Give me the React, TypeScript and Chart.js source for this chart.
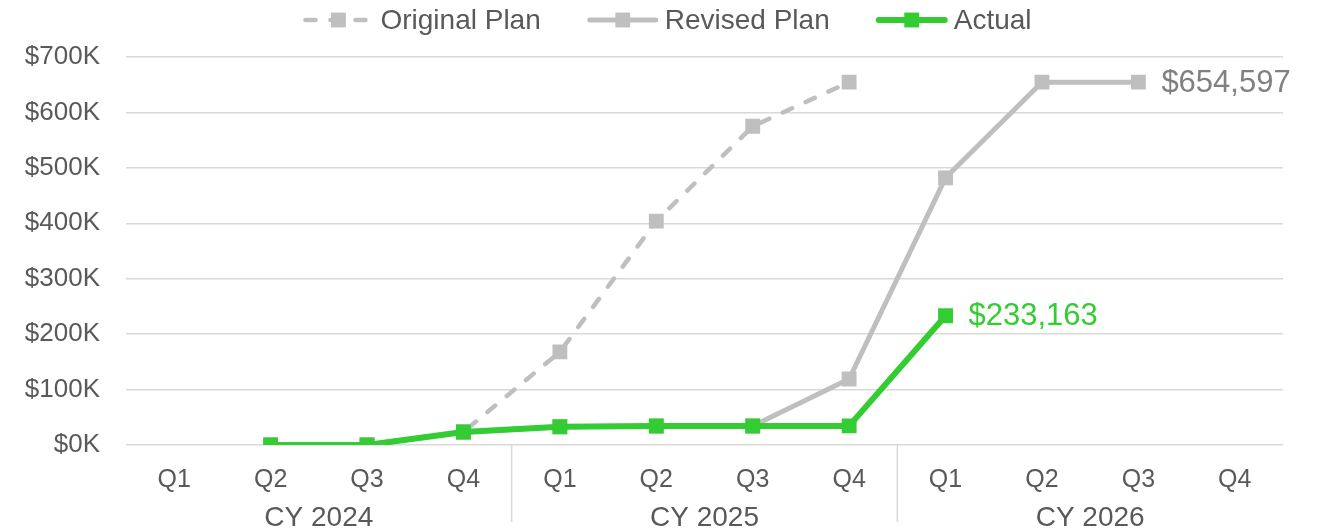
import React, { useEffect, useRef } from "react";
import { Chart, registerables } from "chart.js";

Chart.register(...registerables);

const QUARTERS = ["Q1", "Q2", "Q3", "Q4", "Q1", "Q2", "Q3", "Q4", "Q1", "Q2", "Q3", "Q4"];
const YEARS = ["CY 2024", "CY 2025", "CY 2026"];
const SERIES_NAMES = ["Original Plan", "Revised Plan", "Actual"];

const ORIGINAL_PLAN = [null, 0, 0, 23500, 168000, 404000, 575000, 654597, null, null, null, null];
const REVISED_PLAN = [null, 0, 0, 23500, 33000, 34300, 34300, 119000, 482000, 654597, 654597, null];
const ACTUAL = [null, 0, 0, 23500, 33000, 34300, 34300, 34500, 233163, null, null, null];

const Y_TICKS = [0, 100000, 200000, 300000, 400000, 500000, 600000, 700000];

const GRAY = "#bfbfbf";
const GREEN = "#33cc33";
const TEXT = "#595959";
const FONT = '"Liberation Sans", Arial, sans-serif';

const END_LABEL_INDEX = [null, 10, 8];
const END_LABEL_COLORS = [null, "#808080", GREEN];

const fmtMoney = (v: number) => "$" + v.toLocaleString("en-US");

const legendPlugin = {
  id: "customLegend",
  afterDraw(chart: any) {
    const ctx = chart.ctx;
    ctx.save();
    ctx.font = `28px ${FONT}`;
    const symW = 72;
    const gapText = 6;
    const gapItem = 46;
    const widths = SERIES_NAMES.map((n) => ctx.measureText(n).width);
    const total = widths.reduce((a, w) => a + symW + gapText + w, 0) + gapItem * (SERIES_NAMES.length - 1);
    let x = chart.width / 2 - total / 2 + 5;
    const y = 20;
    chart.data.datasets.forEach((ds: any, i: number) => {
      ctx.strokeStyle = ds.borderColor;
      ctx.lineWidth = ds.borderWidth;
      ctx.setLineDash(ds.borderDash || []);
      ctx.lineCap = "round";
      ctx.beginPath();
      ctx.moveTo(x + 3, y);
      ctx.lineTo(x + symW - 3, y);
      ctx.stroke();
      ctx.setLineDash([]);
      ctx.fillStyle = ds.pointBackgroundColor;
      const s = ds.pointRadius * Math.SQRT2;
      ctx.fillRect(x + symW / 2 - s / 2, y - s / 2, s, s);
      ctx.fillStyle = TEXT;
      ctx.textAlign = "left";
      ctx.textBaseline = "middle";
      ctx.fillText(SERIES_NAMES[i], x + symW + gapText, y + 1);
      x += symW + gapText + widths[i] + gapItem;
    });
    ctx.restore();
  },
};

const yearPlugin = {
  id: "yearAxis",
  afterDraw(chart: any) {
    const ctx = chart.ctx;
    const xs = chart.scales.x;
    const bottom = chart.chartArea.bottom;
    ctx.save();
    ctx.strokeStyle = "#d9d9d9";
    ctx.lineWidth = 1.5;
    for (let i = 1; i < YEARS.length; i++) {
      const px = (xs.getPixelForValue(4 * i - 1) + xs.getPixelForValue(4 * i)) / 2;
      ctx.beginPath();
      ctx.moveTo(px, bottom);
      ctx.lineTo(px, 522);
      ctx.stroke();
    }
    ctx.font = `28px ${FONT}`;
    ctx.fillStyle = TEXT;
    ctx.textAlign = "center";
    ctx.textBaseline = "middle";
    YEARS.forEach((yr, i) => {
      const c = (xs.getPixelForValue(4 * i) + xs.getPixelForValue(4 * i + 3)) / 2;
      ctx.fillText(yr, c, 518);
    });
    ctx.restore();
  },
};

const endLabelPlugin = {
  id: "endLabels",
  afterDatasetsDraw(chart: any) {
    const ctx = chart.ctx;
    ctx.save();
    ctx.font = `31px ${FONT}`;
    ctx.textAlign = "left";
    ctx.textBaseline = "middle";
    END_LABEL_INDEX.forEach((idx, di) => {
      if (idx === null) return;
      const meta = chart.getDatasetMeta(di);
      const pt = meta.data[idx];
      const v = chart.data.datasets[di].data[idx];
      ctx.fillStyle = END_LABEL_COLORS[di];
      ctx.fillText(fmtMoney(v), pt.x + 23, pt.y + 1);
    });
    ctx.restore();
  },
};

export default function App() {
  const ref = useRef<HTMLCanvasElement | null>(null);
  useEffect(() => {
    if (!ref.current) return;
    const chart = new Chart(ref.current, {
      type: "line",
      data: {
        labels: QUARTERS,
        datasets: [
          {
            label: SERIES_NAMES[0],
            data: ORIGINAL_PLAN,
            borderColor: GRAY,
            backgroundColor: GRAY,
            borderWidth: 4.5,
            borderDash: [10, 15],
            borderCapStyle: "round",
            pointStyle: "rect",
            pointRadius: 10.5,
            pointBorderWidth: 0,
            pointBackgroundColor: GRAY,
            order: 3,
          } as any,
          {
            label: SERIES_NAMES[1],
            data: REVISED_PLAN,
            borderColor: GRAY,
            backgroundColor: GRAY,
            borderWidth: 5,
            pointStyle: "rect",
            pointRadius: 10.5,
            pointBorderWidth: 0,
            pointBackgroundColor: GRAY,
            order: 2,
          } as any,
          {
            label: SERIES_NAMES[2],
            data: ACTUAL,
            borderColor: GREEN,
            backgroundColor: GREEN,
            borderWidth: 6,
            pointStyle: "rect",
            pointRadius: 10.5,
            pointBorderWidth: 0,
            pointBackgroundColor: GREEN,
            order: 1,
          } as any,
        ],
      },
      options: {
        animation: false,
        responsive: true,
        maintainAspectRatio: false,
        layout: { padding: { top: 57, right: 41, left: 0, bottom: 0 } },
        plugins: {
          legend: { display: false },
          tooltip: { enabled: false },
        },
        elements: { line: { tension: 0, borderJoinStyle: "round", borderCapStyle: "round" } },
        scales: {
          x: {
            offset: true,
            grid: { display: false, drawTicks: false },
            border: { display: false },
            ticks: { color: TEXT, font: { family: FONT, size: 25 }, padding: 20, maxRotation: 0, autoSkip: false },
            afterFit: (s: any) => {
              s.height = 87;
            },
          },
          y: {
            min: 0,
            max: 700000,
            afterBuildTicks: (s: any) => {
              s.ticks = Y_TICKS.map((v) => ({ value: v }));
            },
            grid: { color: "#d9d9d9", lineWidth: 1.5, drawTicks: false },
            border: { display: false },
            ticks: {
              color: TEXT,
              font: { family: FONT, size: 26 },
              padding: 26,
              callback: (v: any) => "$" + Number(v) / 1000 + "K",
            },
            afterFit: (s: any) => {
              s.width = 126;
            },
          },
        },
      },
      plugins: [legendPlugin, yearPlugin, endLabelPlugin],
    });
    return () => chart.destroy();
  }, []);
  return (
    <div style={{ position: "absolute", left: 0, top: 0, width: 1324, height: 532 }}>
      <canvas ref={ref} />
    </div>
  );
}
